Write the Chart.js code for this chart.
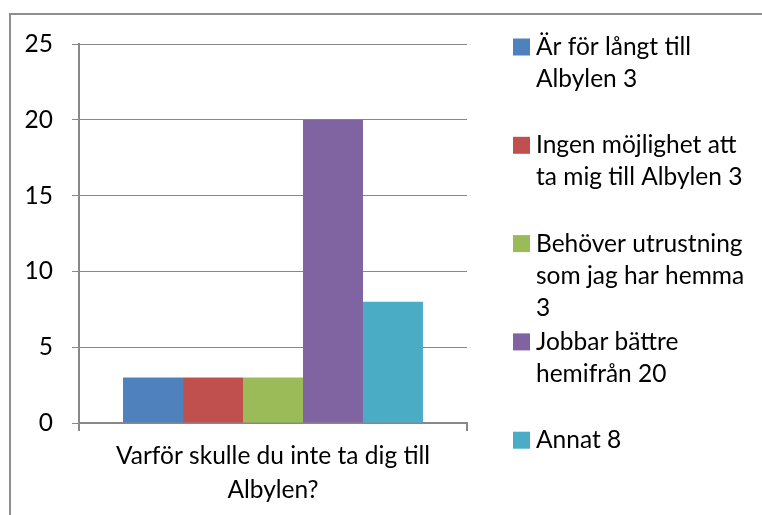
<!DOCTYPE html>
<html><head><meta charset="utf-8">
<script src="https://cdn.jsdelivr.net/npm/chart.js@4.4.0/dist/chart.umd.min.js"></script>
<style>
html,body{margin:0;padding:0;width:762px;height:515px;overflow:hidden;background:#fff;}
#frame{position:absolute;left:9px;top:13px;width:800px;height:600px;border:2px solid #8e8e8e;box-sizing:border-box;}
#wrap{position:absolute;left:0;top:0;width:762px;height:515px;}
</style></head><body>
<div id="frame"></div>
<div id="wrap"><canvas id="c" width="762" height="515"></canvas></div>
<script>
const categories = [["Varför skulle du inte ta dig till", "Albylen?"]];
const seriesNames = [
  "Är för långt till Albylen 3",
  "Ingen möjlighet att ta mig till Albylen 3",
  "Behöver utrustning som jag har hemma 3",
  "Jobbar bättre hemifrån 20",
  "Annat 8"
];
const legendLines = [
  ["Är för långt till", "Albylen 3"],
  ["Ingen möjlighet att", "ta mig till Albylen 3"],
  ["Behöver utrustning", "som jag har hemma", "3"],
  ["Jobbar bättre", "hemifrån 20"],
  ["Annat 8"]
];
const seriesValues = [3, 3, 3, 20, 8];
const yTickValues = [0, 5, 10, 15, 20, 25];
const seriesColors = ["#4F81BD", "#C0504D", "#9BBB59", "#8064A2", "#4BACC6"];

const FONT = "Lato";
const FSIZE = 24.5;

const legendPlugin = {
  id: 'sideLegend',
  afterDraw(chart) {
    const ctx = chart.ctx;
    const cfg = chart.options.plugins.sideLegend;
    ctx.save();
    ctx.font = FSIZE + "px '" + FONT + "'";
    ctx.textBaseline = 'middle';
    ctx.textAlign = 'left';
    chart.data.datasets.forEach((ds, i) => {
      const y0 = cfg.firstY + i * cfg.itemGap;
      ctx.fillStyle = ds.backgroundColor;
      ctx.fillRect(cfg.x, y0 - cfg.box / 2, cfg.box, cfg.box);
      ctx.fillStyle = '#000';
      legendLines[i].forEach((ln, j) => {
        ctx.fillText(ln, cfg.x + cfg.box + cfg.gap, y0 + j * cfg.lineHeight);
      });
    });
    ctx.restore();
  }
};

new Chart(document.getElementById('c'), {
  type: 'bar',
  data: {
    labels: categories,
    datasets: seriesNames.map((n, i) => ({
      label: n,
      data: [seriesValues[i]],
      backgroundColor: seriesColors[i],
      borderWidth: 0,
      categoryPercentage: 0.773,
      barPercentage: 1
    }))
  },
  options: {
    responsive: false,
    devicePixelRatio: 1,
    animation: false,
    layout: { padding: { left: 0, top: 44, right: 295, bottom: 0 } },
    plugins: {
      legend: { display: false },
      tooltip: { enabled: false },
      sideLegend: { x: 513, firstY: 47, itemGap: 98.3, lineHeight: 32, box: 17, gap: 6 }
    },
    scales: {
      y: {
        min: 0, max: 25,
        afterBuildTicks: s => { s.ticks = yTickValues.map(v => ({ value: v })); },
        afterFit: s => { s.width = 79; },
        ticks: { color: '#000', padding: 19, font: { family: FONT, size: FSIZE } },
        grid: { color: '#888888', lineWidth: 1, tickLength: 7 },
        border: { color: '#888888', width: 2 }
      },
      x: {
        afterFit: s => { s.height = 92; },
        ticks: { color: '#000', padding: 8, font: { family: FONT, size: FSIZE, lineHeight: 1.38 } },
        grid: { drawOnChartArea: false, drawTicks: true, tickLength: 8, color: '#888888', lineWidth: 2 },
        border: { color: '#888888', width: 2 }
      }
    }
  },
  plugins: [legendPlugin]
});
</script>
</body></html>
